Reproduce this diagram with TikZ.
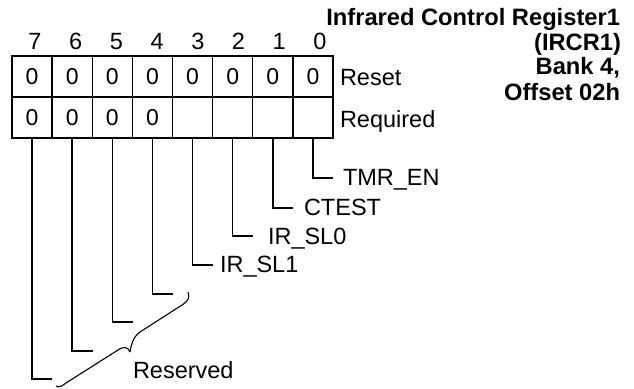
\documentclass[tikz,border=0pt]{standalone}
\usepackage{fontspec}
\setmainfont{Liberation Sans}
\usetikzlibrary{calc}
\begin{document}
\begin{tikzpicture}[x=1pt,y=-1pt,
  txt/.style={inner sep=0pt,outer sep=0pt,font=\fontsize{23.5}{26}\selectfont},
  btxt/.style={inner sep=0pt,outer sep=0pt,font=\fontsize{23.7}{26}\selectfont\bfseries},
  cell/.style={minimum width=40.125pt,minimum height=41pt,inner sep=0pt,outer sep=0pt,font=\fontsize{23}{26}\selectfont},
  gridthin/.style={line width=1.4pt},
  gridthick/.style={line width=2.6pt},
  conn/.style={line width=1.4pt},
]
\useasboundingbox (0,0) rectangle (634,388);

% title
\node[btxt,anchor=base east] (t1) at (620,25) {Infrared Control Register1};
\node[btxt,anchor=base east] (t2) at (621,50) {(IRCR1)};
\node[btxt,anchor=base east] (t3) at (620,74.5) {Bank 4,};
\node[btxt,anchor=base east] (t4) at (620,100) {Offset 02h};

% bit numbers and cells
\foreach \b in {0,...,7}{
  \pgfmathsetmacro{\cx}{12+40.125*(7-\b)+20.0625}
  \pgfmathsetmacro{\nx}{35+40.7*(7-\b)}
  \node[txt,anchor=base] (n\b) at (\nx,49.5) {\b};
  \node[cell] (ra\b) at (\cx,76.5) {0};
}
\foreach \b in {4,...,7}{
  \pgfmathsetmacro{\cx}{12+40.125*(7-\b)+20.0625}
  \node[cell] (rb\b) at (\cx,117.5) {0};
}
\foreach \b in {0,...,3}{
  \pgfmathsetmacro{\cx}{12+40.125*(7-\b)+20.0625}
  \node[cell] (rb\b) at (\cx,117.5) {};
}

% grid
\foreach \b in {0,...,6}{
  \draw[gridthin] (ra\b.north west) -- (rb\b.south west);
}
\draw[gridthick] (ra7.north west) rectangle (rb0.south east);
\draw[gridthick] (rb7.north west) -- (rb0.north east);

\node[txt,anchor=base west] (reset) at (340,85) {Reset};
\node[txt,anchor=base west] (req) at (340,127) {Required};

% connectors
\coordinate (e0) at (333,178);
\coordinate (e1) at (293,208);
\coordinate (e2) at (253,236);
\coordinate (e3) at (213,265);
\coordinate (e4) at (173,294);
\coordinate (e5) at (133,322);
\coordinate (e6) at (93,351);
\coordinate (e7) at (52,379);
\foreach \b in {0,...,7}{
  \draw[conn] (rb\b.south) |- (e\b);
}

\node[txt,anchor=base west] (l0) at ($(e0)+(10,7.5)$) {TMR\_EN};
\node[txt,anchor=base west] (l1) at ($(e1)+(11,7)$) {CTEST};
\node[txt,anchor=base west] (l2) at ($(e2)+(15,8)$) {IR\_SL0};
\node[txt,anchor=base west] (l3) at ($(e3)+(7,7)$) {IR\_SL1};
\node[txt,anchor=base west] (res) at (133,378) {Reserved};

% brace
\coordinate (bt) at (130,352);
\draw[conn,line width=1.1pt] (188,292) .. controls (190,298) and (188,301) .. (182,305) -- (140,332) .. controls (133,337) and (131,345) .. (bt);
\draw[conn,line width=1.1pt] (bt) .. controls (128,347) and (124,346) .. (118,350) -- (66,383) .. controls (62,386) and (59,388) .. (56,386);
\end{tikzpicture}
\end{document}
